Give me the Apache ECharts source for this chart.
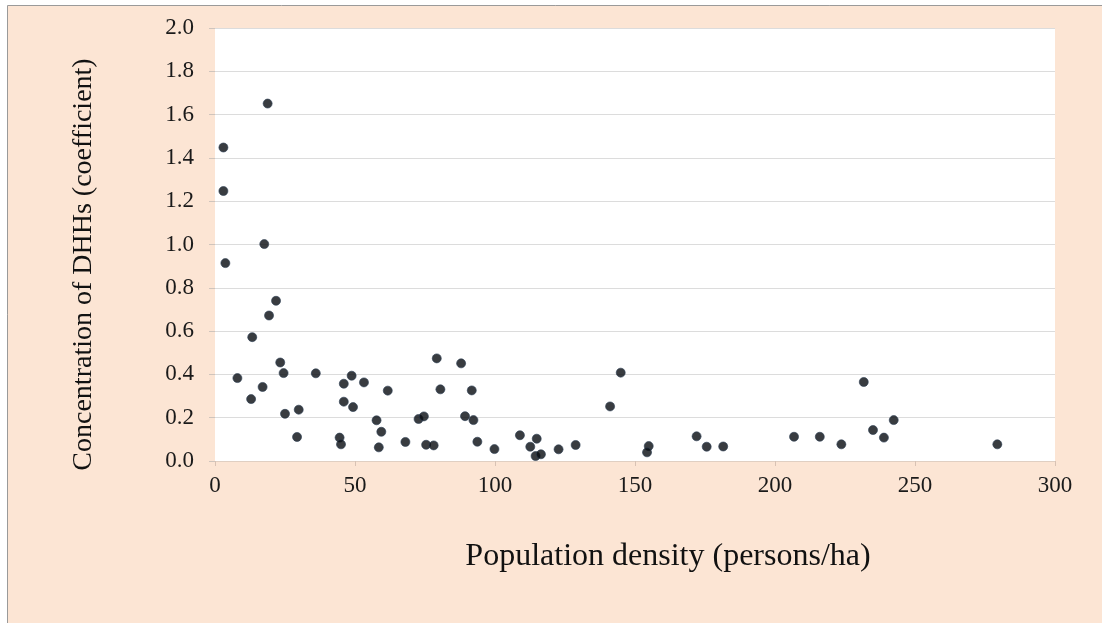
<!DOCTYPE html>
<html>
<head>
<meta charset="utf-8">
<script src="https://cdn.jsdelivr.net/npm/echarts@6/dist/echarts.min.js"></script>
<style>
html,body{margin:0;padding:0;background:#ffffff;}
#c{width:1102px;height:623px;}
</style>
</head>
<body>
<div id="c"></div>
<script>
const densityValues = [18.8,3.0,3.0,17.6,3.7,21.8,19.3,13.3,23.3,24.5,36.0,8.0,48.8,46.0,53.2,17.0,61.7,12.9,46.0,49.3,29.9,25.0,57.7,59.4,29.3,44.5,45.0,58.5,
  79.2,87.9,144.9,80.5,91.7,141.1,72.7,74.6,89.3,92.3,68.0,75.4,78.1,93.7,99.8,108.9,114.9,112.6,114.5,116.4,122.7,128.8,154.9,154.3,
  172.0,175.6,181.5,206.8,216.0,223.7,231.7,235.0,238.9,242.4,279.4];
const concentrationValues = [1.651,1.448,1.247,1.002,0.914,0.740,0.672,0.572,0.455,0.406,0.405,0.383,0.394,0.357,0.363,0.342,0.325,0.286,0.274,0.249,0.237,0.218,0.188,0.135,0.111,0.108,0.077,0.063,
  0.474,0.451,0.408,0.331,0.326,0.252,0.194,0.206,0.207,0.189,0.088,0.075,0.072,0.089,0.055,0.119,0.103,0.066,0.023,0.031,0.054,0.074,0.069,0.040,
  0.114,0.066,0.067,0.112,0.112,0.077,0.365,0.143,0.108,0.189,0.077];
const xTicks = [0,50,100,150,200,250,300];
const yTicks = [0.0,0.2,0.4,0.6,0.8,1.0,1.2,1.4,1.6,1.8,2.0];
const xTitle = 'Population density (persons/ha)';
const yTitle = 'Concentration of DHHs (coefficient)';

const points = densityValues.map((x,i)=>[x, concentrationValues[i]]);
const chart = echarts.init(document.getElementById('c'), null, {renderer:'canvas'});
const serif = '"Liberation Serif", "DejaVu Serif", serif';
chart.setOption({
  backgroundColor:'#ffffff',
  animation:false,
  graphic:[{
    type:'rect', z:-10, silent:true,
    shape:{x:7.5,y:5.5,width:1100,height:620},
    style:{fill:'#fce5d4', stroke:'#9a9a9a', lineWidth:1}
  }],
  grid:{left:215, top:28, right:47, bottom:162, show:true, backgroundColor:'#ffffff', borderWidth:0},
  xAxis:{
    type:'value', min:xTicks[0], max:xTicks[xTicks.length-1], interval:50,
    name:xTitle, nameLocation:'middle', nameGap:80,
    nameTextStyle:{fontFamily:serif, fontSize:32, color:'#111', padding:[0,0,0,66]},
    axisLine:{show:true, lineStyle:{color:'#e0cfc2', width:1}},
    axisTick:{show:true, inside:false, length:5, lineStyle:{color:'#d8c2b4'}},
    axisLabel:{fontFamily:serif, fontSize:23, color:'#1a1a1a', margin:13},
    splitLine:{show:false}
  },
  yAxis:{
    type:'value', min:yTicks[0], max:yTicks[yTicks.length-1], interval:0.2,
    name:yTitle, nameLocation:'middle', nameGap:117, nameRotate:90,
    nameTextStyle:{fontFamily:serif, fontSize:28, color:'#111', padding:[0,40,0,0]},
    axisLine:{show:false},
    axisTick:{show:true, inside:false, length:6, lineStyle:{color:'#cfc4bc'}},
    axisLabel:{fontFamily:serif, fontSize:23, color:'#1a1a1a', margin:21, formatter:v=>v.toFixed(1)},
    splitLine:{show:true, lineStyle:{color:'#dcdcdc', width:1}}
  },
  series:[{
    type:'scatter', data:points, symbol:'circle', symbolSize:9,
    itemStyle:{color:'#070b10', borderColor:'#2c3e52', borderWidth:0.8}
  }]
});
</script>
</body>
</html>
